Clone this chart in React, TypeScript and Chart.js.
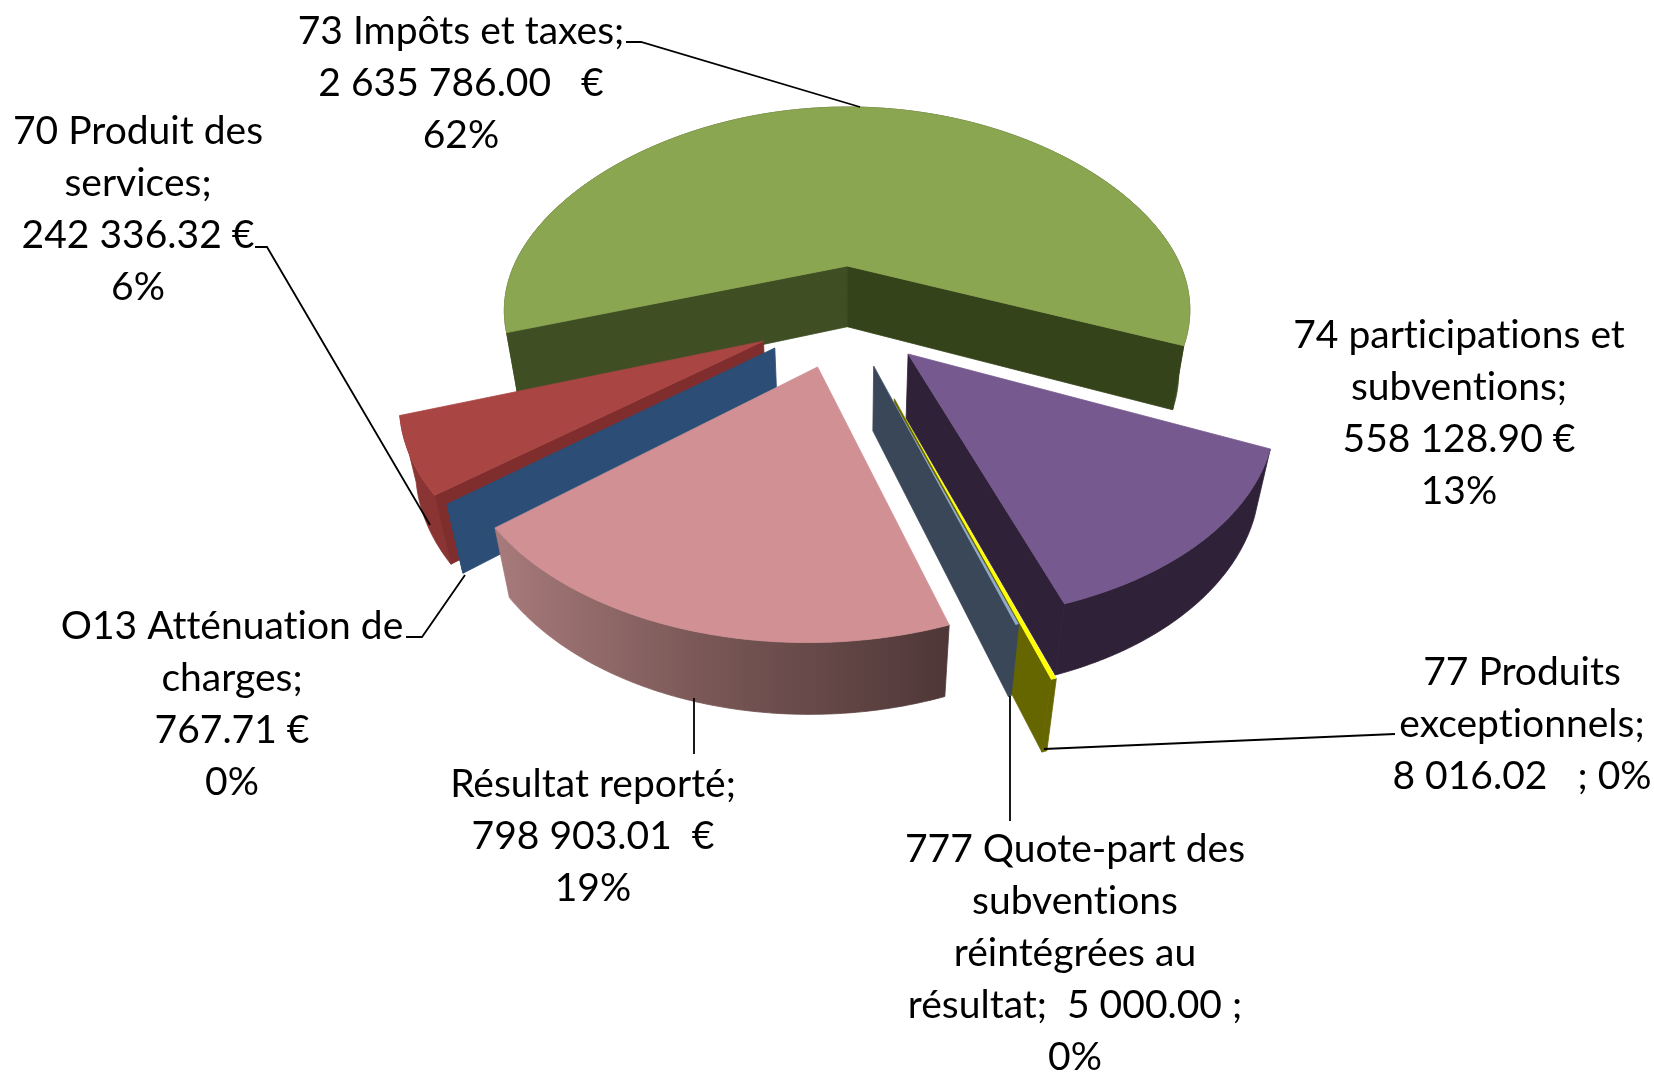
import React, { useEffect, useRef } from "react";
import { Chart, registerables } from "chart.js";

Chart.register(...registerables);

// ---- data -------------------------------------------------------------
const categories = [
  "73 Impôts et taxes",
  "74 participations et subventions",
  "77 Produits exceptionnels",
  "777 Quote-part des subventions réintégrées au résultat",
  "Résultat reporté",
  "O13 Atténuation de charges",
  "70 Produit des services",
];
const amounts = [2635786.0, 558128.9, 8016.02, 5000.0, 798903.01, 767.71, 242336.32];
const labelLines = [
  ["73 Impôts et taxes;", "2 635 786.00   €", "62%"],
  ["74 participations et", "subventions;", "558 128.90 €", "13%"],
  ["77 Produits", "exceptionnels;", "8 016.02   ; 0%"],
  ["777 Quote-part des", "subventions", "réintégrées au", "résultat;  5 000.00 ;", "0%"],
  ["Résultat reporté;", "798 903.01  €", "19%"],
  ["O13 Atténuation de", "charges;", "767.71 €", "0%"],
  ["70 Produit des", "services;", "242 336.32 €", "6%"],
];

// ---- styles -----------------------------------------------------------
const topColors = ["#8BA650", "#76598F", "#FFFF00", "#8FA8D0", "#D19194", "#2C4D75", "#A94543"];
const startWall = ["#3F4F23", "#2E2138", "#666600", "#3A4759", "#5A4040", "#2C4D75", "#7F2E2D"];
const endWall = ["#35431B", "#2E2138", "#666600", "#3A4759", "#5A4040", "#2C4D75", "#7F2E2D"];
const outerWall = ["#3F4F23", "#2E2138", "#666600", "#3A4759", "", "#2C4D75", "#8A3534"];
const explode = [28, 27.3, 43.2, 27.2, 27.3, 26.3, 27.2];
const radiusU = [1.07, 1.02, 1, 1, 1, 1.015, 1.02];
const radiusV = [1.1, 1.0, 1, 1, 1, 1.015, 1.02];
const backBulge = [0.11, 0, 0, 0, 0, 0, 0];
const angleShiftDeg = [0, 1.3, 1.0, 0.8, 0, 0, 0];
const paintOrder = [0, 6, 5, 1, 2, 3, 4];

// label centres: x, and y of the first line; leader polylines
const labelAnchors = [
  [461, 31],
  [1459, 335],
  [1522, 672],
  [1075, 849],
  [593, 784],
  [232, 626],
  [138, 131],
];
const leaders = [
  [[626, 42], [641, 42], [860, 107]],
  [],
  [[1044, 749], [1395, 734]],
  [[1010, 696], [1010, 821]],
  [[694, 698], [694, 754]],
  [[406, 637], [422, 637], [465, 575]],
  [[255, 247], [267, 247], [430, 525]],
];

// camera constants fitted to the picture
const X0 = 850;
const HORIZON = -517;
const NADIR = 2250;
const SX = 1480;
const TY = 3719;
const DIST = 4.47;
const CENTER_U = -0.018;
const THICK = 0.15;
const ROTATION = 250.2;
const FONT = "39px Lato";
const LINE_H = 52;

const project = (u: number, d: number, q: number) => ({
  x: X0 + (SX * u) / (d + q),
  y: HORIZON + (TY + (NADIR - HORIZON) * q) / (d + q),
});

const poly = (ctx: CanvasRenderingContext2D, pts: { x: number; y: number }[], fill: any, seal = true) => {
  ctx.beginPath();
  pts.forEach((p, i) => (i ? ctx.lineTo(p.x, p.y) : ctx.moveTo(p.x, p.y)));
  ctx.closePath();
  ctx.fillStyle = fill;
  ctx.fill();
  if (seal) {
    ctx.strokeStyle = fill;
    ctx.lineWidth = 0.8;
    ctx.stroke();
  }
};

const pie3d = {
  id: "pie3d",
  beforeDatasetDraw(chart: any, args: any) {
    const ctx: CanvasRenderingContext2D = chart.ctx;
    const arcs = args.meta.data;
    ctx.save();
    for (const i of paintOrder) {
      const el = arcs[i];
      const mid = (el.startAngle + el.endAngle) / 2;
      const shift = (angleShiftDeg[i] * Math.PI) / 180;
      const a0 = el.startAngle + shift;
      const a1 = el.endAngle + shift;
      const e = el.options.offset / 100;
      const ou = CENTER_U + e * Math.cos(mid);
      const od = DIST - e * Math.sin(mid);
      const at = (t: number, scale: number, q: number) => {
        const s = Math.sin(t);
        const rv = radiusV[i] + (s < 0 ? backBulge[i] * -s : 0);
        return project(ou + scale * radiusU[i] * Math.cos(t), od - scale * rv * s, q);
      };
      const n = Math.max(2, Math.ceil((a1 - a0) / 0.01));
      const topArc: { x: number; y: number }[] = [];
      const botArc: { x: number; y: number }[] = [];
      for (let k = 0; k <= n; k++) {
        const t = a0 + ((a1 - a0) * k) / n;
        topArc.push(at(t, 1, 0));
        botArc.push(at(t, 1, THICK));
      }
      // outer curved wall
      let outerFill: any = outerWall[i];
      if (i === 4) {
        const g = ctx.createLinearGradient(topArc[n].x, 0, topArc[0].x, 0);
        g.addColorStop(0, "#A87A7B");
        g.addColorStop(0.45, "#7A5857");
        g.addColorStop(1, "#4F3737");
        outerFill = g;
      }
      poly(ctx, [...topArc, ...botArc.slice().reverse()], outerFill);
      // cut walls, only those that face the viewer
      const apexT = at(a0, 0, 0);
      const apexB = at(a0, 0, THICK);
      if (topArc[0].x < apexT.x) poly(ctx, [apexT, topArc[0], botArc[0], apexB], startWall[i]);
      if (topArc[n].x > apexT.x) poly(ctx, [apexT, topArc[n], botArc[n], apexB], endWall[i]);
      // top face
      poly(ctx, [apexT, ...topArc], el.options.backgroundColor, i !== 2 && i !== 3 && i !== 5);
    }
    ctx.restore();
    return false;
  },
  afterDatasetsDraw(chart: any) {
    const ctx: CanvasRenderingContext2D = chart.ctx;
    ctx.save();
    ctx.strokeStyle = "#000";
    ctx.lineWidth = 1.8;
    leaders.forEach((pts) => {
      if (!pts.length) return;
      ctx.beginPath();
      pts.forEach((p, i) => (i ? ctx.lineTo(p[0], p[1]) : ctx.moveTo(p[0], p[1])));
      ctx.stroke();
    });
    ctx.fillStyle = "#000";
    ctx.font = FONT;
    (ctx as any).letterSpacing = "0.01px";
    ctx.textAlign = "center";
    ctx.textBaseline = "middle";
    labelLines.forEach((lines, i) => {
      lines.forEach((s, j) => {
        ctx.fillText(s, labelAnchors[i][0], labelAnchors[i][1] + j * LINE_H);
      });
    });
    ctx.restore();
  },
};

export default function App() {
  const ref = useRef<HTMLCanvasElement>(null);
  useEffect(() => {
    const chart = new Chart(ref.current as HTMLCanvasElement, {
      type: "pie",
      data: {
        labels: categories,
        datasets: [
          {
            data: amounts,
            backgroundColor: topColors,
            offset: explode,
            borderWidth: 0,
          } as any,
        ],
      },
      options: {
        responsive: false,
        animation: false,
        rotation: ROTATION,
        plugins: { legend: { display: false }, tooltip: { enabled: false } },
      },
      plugins: [pie3d as any],
    });
    return () => chart.destroy();
  }, []);
  return (
    <canvas
      ref={ref}
      width={1654}
      height={1072}
      style={{ position: "fixed", left: 0, top: 0, width: 1654, height: 1072, background: "#fff" }}
    />
  );
}
